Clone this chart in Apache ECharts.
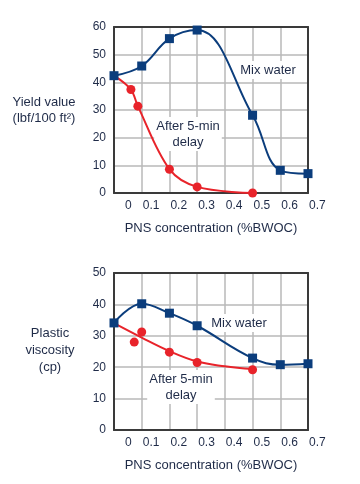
<!DOCTYPE html>
<html>
<head>
<meta charset="utf-8">
<script src="https://cdn.jsdelivr.net/npm/echarts@6/dist/echarts.min.js"></script>
<style>
  html, body { margin: 0; padding: 0; background: #fff; }
  #chart { width: 360px; height: 484px; }
</style>
</head>
<body>
<div id="chart"></div>
<script>
// ---- data ----
const xTickLabels = ['0', '0.1', '0.2', '0.3', '0.4', '0.5', '0.6', '0.7'];
const yieldTicks = [0, 10, 20, 30, 40, 50, 60];
const pvTicks = [0, 10, 20, 30, 40, 50];

const mixConc = [0, 0.1, 0.2, 0.3, 0.5, 0.6, 0.7];
const yieldMix = [42.4, 45.9, 55.8, 58.9, 28.1, 8.2, 7.0];
const yieldDelayConc = [0, 0.061, 0.086, 0.2, 0.3, 0.5];
const yieldDelay = [42.4, 37.4, 31.4, 8.6, 2.2, 0];

const pvMix = [34.1, 40.2, 37.2, 33.2, 22.9, 20.8, 21.1];
const pvDelayConc = [0.073, 0.1, 0.2, 0.3, 0.5];
const pvDelay = [28.0, 31.2, 24.8, 21.5, 19.2];
const pvFitConc = [0, 0.1, 0.2, 0.3, 0.4, 0.5];
const pvFit = [34.0, 29.4, 25.1, 21.8, 20.3, 19.4];

const xName = 'PNS concentration (%BWOC)';

// ---- style ----
const FONT = "'Liberation Sans', Arial, sans-serif";
const TXT = '#1f2b48';
const BLUE = '#0b3d7c';
const RED = '#e8232a';
const FRAME = '#3a3a3a';
const GRIDC = '#b8b8b8';

const zip = (xs, ys) => xs.map((x, i) => [x, ys[i]]);

function xAxis(gridIndex) {
  return {
    type: 'value', gridIndex, min: 0, max: 0.7, interval: 0.1,
    name: xName, nameLocation: 'middle', nameGap: 29,
    nameTextStyle: { fontFamily: FONT, fontSize: 13, color: TXT },
    axisLine: { show: true, onZero: false, lineStyle: { color: FRAME, width: 2 } },
    axisTick: { show: false },
    splitLine: { show: true, lineStyle: { color: GRIDC, width: 1.5 } },
    axisLabel: {
      margin: 7, align: 'left', color: TXT, fontFamily: FONT, fontSize: 12,
      formatter: (v) => {
        const i = Math.round(v * 10);
        return i === 0 ? '{z|' + xTickLabels[i] + '}' : '{a|' + xTickLabels[i] + '}';
      },
      rich: {
        z: { padding: [0, 0, 0, 11], fontFamily: FONT, fontSize: 12, color: TXT },
        a: { padding: [0, 0, 0, 1], fontFamily: FONT, fontSize: 12, color: TXT }
      }
    }
  };
}
function xFrame(gridIndex) {
  return {
    type: 'value', gridIndex, min: 0, max: 0.7, interval: 0.1, position: 'top',
    axisLine: { show: true, onZero: false, lineStyle: { color: FRAME, width: 2 } },
    axisTick: { show: false }, axisLabel: { show: false }, splitLine: { show: false }
  };
}
function yAxis(gridIndex, ticks) {
  return {
    type: 'value', gridIndex, min: ticks[0], max: ticks[ticks.length - 1], interval: 10,
    axisLine: { show: true, onZero: false, lineStyle: { color: FRAME, width: 2 } },
    axisTick: { show: false },
    splitLine: { show: true, lineStyle: { color: GRIDC, width: 1.5 } },
    axisLabel: { margin: 8, color: TXT, fontFamily: FONT, fontSize: 12,
      formatter: (v) => String(v), padding: [0, 0, 4, 0] }
  };
}
function yFrame(gridIndex, ticks) {
  return {
    type: 'value', gridIndex, min: ticks[0], max: ticks[ticks.length - 1], interval: 10, position: 'right',
    axisLine: { show: true, onZero: false, lineStyle: { color: FRAME, width: 2 } },
    axisTick: { show: false }, axisLabel: { show: false }, splitLine: { show: false }
  };
}

function label(text, x, y, opts) {
  return {
    type: 'text', x, y, z: 1,
    style: Object.assign({
      text, fill: TXT, font: '13px ' + FONT, align: 'center', verticalAlign: 'middle', lineHeight: 16
    }, opts || {})
  };
}

const boxed = { backgroundColor: '#fff', padding: [1, 2] };

const option = {
  animation: false,
  backgroundColor: '#fff',
  grid: [
    { left: 114, right: 52, top: 27, height: 166 },
    { left: 114, right: 52, top: 273, height: 157 }
  ],
  xAxis: [xAxis(0), xAxis(1), xFrame(0), xFrame(1)],
  yAxis: [yAxis(0, yieldTicks), yAxis(1, pvTicks), yFrame(0, yieldTicks), yFrame(1, pvTicks)],
  series: [
    { type: 'line', xAxisIndex: 0, yAxisIndex: 0, z: 3, smooth: 0.35,
      data: zip(yieldDelayConc, yieldDelay).map((d, i) => i === 0 ? { value: d, symbol: 'none' } : d),
      symbol: 'circle', symbolSize: 9, showAllSymbol: true,
      lineStyle: { color: RED, width: 2 }, itemStyle: { color: RED } },
    { type: 'line', xAxisIndex: 0, yAxisIndex: 0, z: 4, smooth: 0.4,
      data: zip(mixConc, yieldMix), symbol: 'rect', symbolSize: 9, showAllSymbol: true,
      lineStyle: { color: BLUE, width: 2 }, itemStyle: { color: BLUE } },

    { type: 'line', xAxisIndex: 1, yAxisIndex: 1, z: 3, smooth: 0.4,
      data: zip(pvFitConc, pvFit), symbol: 'none',
      lineStyle: { color: RED, width: 2 } },
    { type: 'scatter', xAxisIndex: 1, yAxisIndex: 1, z: 3,
      data: zip(pvDelayConc, pvDelay), symbol: 'circle', symbolSize: 9,
      itemStyle: { color: RED, opacity: 1 } },
    { type: 'line', xAxisIndex: 1, yAxisIndex: 1, z: 4, smooth: 0.4,
      data: zip(mixConc, pvMix), symbol: 'rect', symbolSize: 9, showAllSymbol: true,
      lineStyle: { color: BLUE, width: 2 }, itemStyle: { color: BLUE } }
  ],
  graphic: [
    label('Yield value', 44, 102),
    label('(lbf/100 ft²)', 44, 118),
    label('Plastic', 50, 333),
    label('viscosity', 50, 350),
    label('(cp)', 50, 367),
    label('Mix water', 268, 70, boxed),
    label('After 5-min\ndelay', 188, 134, boxed),
    label('Mix water', 239, 323, boxed),
    label('After 5-min\ndelay', 181, 387, boxed)
  ]
};

const chart = echarts.init(document.getElementById('chart'), null, { renderer: 'canvas' });
chart.setOption(option);
</script>
</body>
</html>
